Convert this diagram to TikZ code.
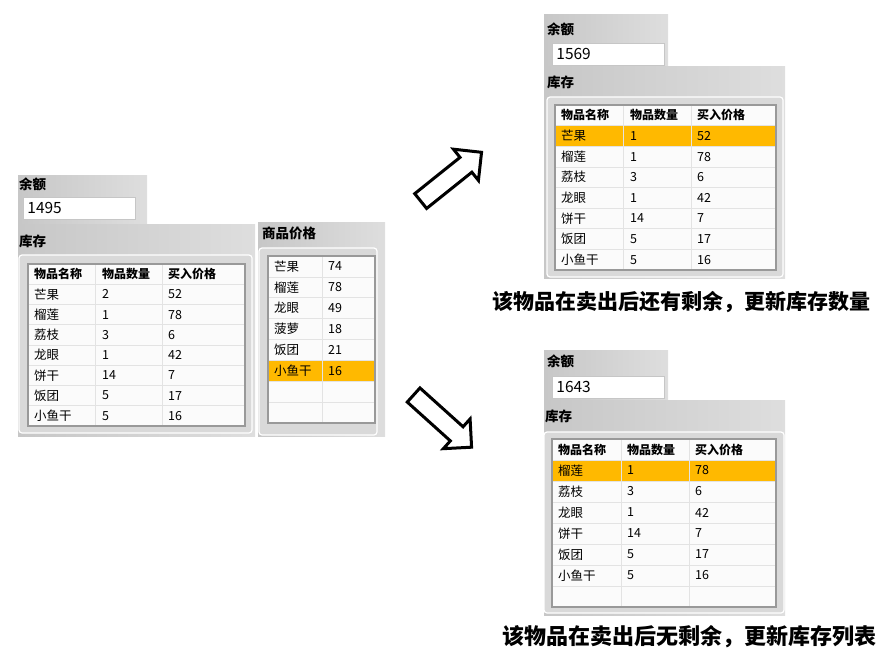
\documentclass[tikz,border=0pt]{standalone}
\usepackage{fontspec}
\setmainfont{Noto Sans CJK SC}
\usetikzlibrary{shapes.arrows}
\definecolor{hlorange}{RGB}{255,185,0}

\begin{document}
\begin{tikzpicture}[x=1pt,y=-1pt,
    skinbg/.style={left color=gray!44,right color=gray!26},
    innerframe/.style={fill=gray!30,draw=white,line width=1.2pt,rounded corners=3pt},
    tblbox/.style={fill=white!97!gray,draw=gray!80,line width=1.6pt},
    hlrow/.style={fill=hlorange},
    gridln/.style={draw=gray!22,line width=0.8pt},
    ttl/.style={anchor=west,inner sep=0pt,font=\bfseries\fontsize{13.5}{15}\selectfont},
    cell/.style={anchor=west,inner sep=0pt,font=\fontsize{12.5}{14}\selectfont},
    hdcell/.style={anchor=west,inner sep=0pt,font=\bfseries\fontsize{12}{14}\selectfont},
    numbox/.style={fill=white,draw=gray!45,line width=0.8pt,anchor=north west,minimum height=22pt,
        text width=104pt,inner xsep=4pt,inner ysep=0pt,align=left,font=\fontsize{15.5}{17}\selectfont},
    bigarr/.style={single arrow,draw,line width=3pt,fill=white,minimum height=78pt,
        single arrow head extend=10.5pt,single arrow head indent=0pt,inner xsep=0pt,inner ysep=8pt,anchor=tail},
    capt/.style={inner sep=0pt,font=\bfseries\fontsize{21}{24}\selectfont}]
    \useasboundingbox (0,0) rectangle (896,666);

    % left: before selling
    \shade[skinbg] (18,175) rectangle (147,224);
    \node[ttl] (balL) at (19,184) {余额};
    \node[numbox] (balLv) at (23,197) {1495};
    \shade[skinbg] (18,224) rectangle (255,436);
    \node[ttl] (invL) at (19,241) {库存};
    \draw[innerframe] (19,255) rectangle (252,433);
    \filldraw[tblbox] (28,264) rectangle (245,426);
    \draw[gridln] (95,265) -- (95,425) (162,265) -- (162,425)
        (29,284.25) -- (244,284.25) (29,304.5) -- (244,304.5) (29,324.75) -- (244,324.75)
        (29,345) -- (244,345) (29,365.25) -- (244,365.25) (29,385.5) -- (244,385.5)
        (29,405.75) -- (244,405.75);
    \node[hdcell] (lh1) at (34,274) {物品名称};
    \node[hdcell] (lh2) at (102,274) {物品数量};
    \node[hdcell] (lh3) at (168,274) {买入价格};
    \node[cell] (l1a) at (34,294.4) {芒果};
    \node[cell] (l1b) at (102,294.4) {2};
    \node[cell] (l1c) at (168,294.4) {52};
    \node[cell] (l2a) at (34,314.6) {榴莲};
    \node[cell] (l2b) at (102,314.6) {1};
    \node[cell] (l2c) at (168,314.6) {78};
    \node[cell] (l3a) at (34,334.9) {荔枝};
    \node[cell] (l3b) at (102,334.9) {3};
    \node[cell] (l3c) at (168,334.9) {6};
    \node[cell] (l4a) at (34,355.1) {龙眼};
    \node[cell] (l4b) at (102,355.1) {1};
    \node[cell] (l4c) at (168,355.1) {42};
    \node[cell] (l5a) at (34,375.4) {饼干};
    \node[cell] (l5b) at (102,375.4) {14};
    \node[cell] (l5c) at (168,375.4) {7};
    \node[cell] (l6a) at (34,395.6) {饭团};
    \node[cell] (l6b) at (102,395.6) {5};
    \node[cell] (l6c) at (168,395.6) {17};
    \node[cell] (l7a) at (34,415.9) {小鱼干};
    \node[cell] (l7b) at (102,415.9) {5};
    \node[cell] (l7c) at (168,415.9) {16};

    % left: shop prices
    \shade[skinbg] (258,222) rectangle (385,436);
    \node[ttl] (price) at (262,233) {商品价格};
    \draw[innerframe] (259,248) rectangle (377,435);
    \filldraw[tblbox] (268,256) rectangle (375,423);
    \fill[hlrow] (269,360.4) rectangle (374,381.25);
    \draw[gridln] (322,257) -- (322,422)
        (269,276.9) -- (374,276.9) (269,297.75) -- (374,297.75) (269,318.6) -- (374,318.6)
        (269,339.5) -- (374,339.5) (269,360.4) -- (374,360.4) (269,381.25) -- (374,381.25)
        (269,402.1) -- (374,402.1);
    \node[cell] (p1a) at (274,266.4) {芒果};
    \node[cell] (p1b) at (328,266.4) {74};
    \node[cell] (p2a) at (274,287.3) {榴莲};
    \node[cell] (p2b) at (328,287.3) {78};
    \node[cell] (p3a) at (274,308.2) {龙眼};
    \node[cell] (p3b) at (328,308.2) {49};
    \node[cell] (p4a) at (274,329.1) {菠萝};
    \node[cell] (p4b) at (328,329.1) {18};
    \node[cell] (p5a) at (274,349.9) {饭团};
    \node[cell] (p5b) at (328,349.9) {21};
    \node[cell] (p6a) at (274,370.8) {小鱼干};
    \node[cell] (p6b) at (328,370.8) {16};

    % arrows
    \node[bigarr,rotate=38.7] (arrUp) at (419.5,202) {};
    \node[bigarr,rotate=-42] (arrDn) at (412.5,394) {};

    % right top: some left
    \shade[skinbg] (544,15) rectangle (668,67);
    \node[ttl] (balA) at (547,29) {余额};
    \node[numbox] (balAv) at (552,43) {1569};
    \shade[skinbg] (544,67) rectangle (785,278);
    \node[ttl] (invA) at (547,82) {库存};
    \draw[innerframe] (547,97) rectangle (783,277);
    \filldraw[tblbox] (555,105) rectangle (776,270);
    \fill[hlrow] (556,125.6) rectangle (775,146.25);
    \draw[gridln] (623,106) -- (623,269) (691,106) -- (691,269)
        (556,125.6) -- (775,125.6) (556,146.25) -- (775,146.25) (556,166.9) -- (775,166.9)
        (556,187.5) -- (775,187.5) (556,208.1) -- (775,208.1) (556,228.75) -- (775,228.75)
        (556,249.4) -- (775,249.4);
    \node[hdcell] (ah1) at (561,115.3) {物品名称};
    \node[hdcell] (ah2) at (630,115.3) {物品数量};
    \node[hdcell] (ah3) at (697,115.3) {买入价格};
    \node[cell] (a1a) at (561,135.9) {芒果};
    \node[cell] (a1b) at (630,135.9) {1};
    \node[cell] (a1c) at (697,135.9) {52};
    \node[cell] (a2a) at (561,156.6) {榴莲};
    \node[cell] (a2b) at (630,156.6) {1};
    \node[cell] (a2c) at (697,156.6) {78};
    \node[cell] (a3a) at (561,177.2) {荔枝};
    \node[cell] (a3b) at (630,177.2) {3};
    \node[cell] (a3c) at (697,177.2) {6};
    \node[cell] (a4a) at (561,197.8) {龙眼};
    \node[cell] (a4b) at (630,197.8) {1};
    \node[cell] (a4c) at (697,197.8) {42};
    \node[cell] (a5a) at (561,218.4) {饼干};
    \node[cell] (a5b) at (630,218.4) {14};
    \node[cell] (a5c) at (697,218.4) {7};
    \node[cell] (a6a) at (561,239.1) {饭团};
    \node[cell] (a6b) at (630,239.1) {5};
    \node[cell] (a6c) at (697,239.1) {17};
    \node[cell] (a7a) at (561,259.7) {小鱼干};
    \node[cell] (a7b) at (630,259.7) {5};
    \node[cell] (a7c) at (697,259.7) {16};
    \node[capt] (capA) at (681.5,302) {该物品在卖出后还有剩余，更新库存数量};

    % right bottom: none left
    \shade[skinbg] (544,350) rectangle (668,400);
    \node[ttl] (balB) at (547,361) {余额};
    \node[numbox] (balBv) at (552,376) {1643};
    \shade[skinbg] (544,400) rectangle (785,615);
    \node[ttl] (invB) at (545,416) {库存};
    \draw[innerframe] (544,432) rectangle (784,613);
    \filldraw[tblbox] (552,439) rectangle (776,607);
    \fill[hlrow] (553,460) rectangle (775,481);
    \draw[gridln] (621,440) -- (621,606) (689,440) -- (689,606)
        (553,460) -- (775,460) (553,481) -- (775,481) (553,502) -- (775,502)
        (553,523) -- (775,523) (553,544) -- (775,544) (553,565) -- (775,565)
        (553,586) -- (775,586);
    \node[hdcell] (bh1) at (558,449.5) {物品名称};
    \node[hdcell] (bh2) at (627,449.5) {物品数量};
    \node[hdcell] (bh3) at (695,449.5) {买入价格};
    \node[cell] (b1a) at (558,470.5) {榴莲};
    \node[cell] (b1b) at (627,470.5) {1};
    \node[cell] (b1c) at (695,470.5) {78};
    \node[cell] (b2a) at (558,491.5) {荔枝};
    \node[cell] (b2b) at (627,491.5) {3};
    \node[cell] (b2c) at (695,491.5) {6};
    \node[cell] (b3a) at (558,512.5) {龙眼};
    \node[cell] (b3b) at (627,512.5) {1};
    \node[cell] (b3c) at (695,512.5) {42};
    \node[cell] (b4a) at (558,533.5) {饼干};
    \node[cell] (b4b) at (627,533.5) {14};
    \node[cell] (b4c) at (695,533.5) {7};
    \node[cell] (b5a) at (558,554.5) {饭团};
    \node[cell] (b5b) at (627,554.5) {5};
    \node[cell] (b5c) at (695,554.5) {17};
    \node[cell] (b6a) at (558,575.5) {小鱼干};
    \node[cell] (b6b) at (627,575.5) {5};
    \node[cell] (b6c) at (695,575.5) {16};
    \node[capt,font=\bfseries\fontsize{22}{24}\selectfont] (capB) at (689,637) {该物品在卖出后无剩余，更新库存列表};
\end{tikzpicture}
\end{document}
